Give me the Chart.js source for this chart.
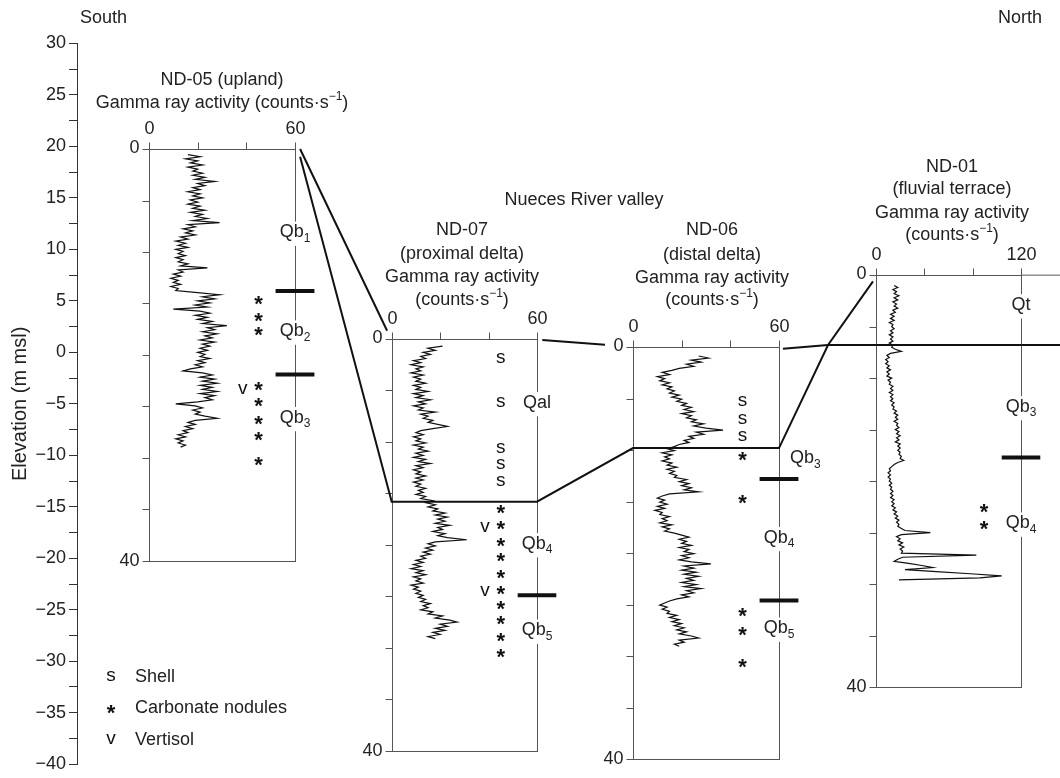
<!DOCTYPE html>
<html>
<head>
<meta charset="utf-8">
<title>Nueces River valley - gamma ray logs</title>
<script src="https://cdn.jsdelivr.net/npm/chart.js@4.4.0/dist/chart.umd.min.js"></script>
<style>
  body { margin: 0; background: #fff; }
  #section { display: block; }
</style>
</head>
<body>
<canvas id="section" width="1060" height="778"></canvas>
<script>
// elevation axis (m msl)
var elevMin = -40;
var elevMax = 30;
var elevStep = 2.5;

// the four wells, south to north
var logNames = ['ND-05', 'ND-07', 'ND-06', 'ND-01'];
var logTop = [19.75, 1.3, 0.5, 7.5];          // ground elevation of each well
var logDepth = 40;                             // every log frame is 40 m deep
var gammaMax = [60, 60, 60, 120];
var gammaTicks = [[0, 20, 40, 60], [0, 20, 40, 60], [0, 20, 40, 60], [0, 40, 80, 120]];
var sampleStep = 0.2;                          // m between two readings
var firstDepth = [0.55, 0.7, 0.85, 1.0];       // depth of the first reading

// gamma ray readings (counts/s), top to bottom
var gamma05 = [
  16, 21, 15, 20, 17, 22, 16, 20, 18, 22,
  18, 23, 19, 27, 20, 23, 18, 21, 16, 21,
  18, 22, 17, 20, 16, 21, 18, 23, 17, 22,
  19, 24, 18, 29, 16, 19, 14, 18, 15, 19,
  13, 16, 11, 15, 12, 16, 11, 14, 12, 15,
  11, 14, 12, 16, 13, 24, 12, 14, 10, 13,
  9, 12, 10, 13, 9, 12, 11, 20, 29, 22,
  27, 20, 25, 19, 24, 10, 21, 25, 19, 24,
  20, 26, 22, 32, 24, 27, 22, 28, 23, 26,
  21, 27, 22, 25, 21, 24, 20, 23, 21, 25,
  20, 23, 19, 22, 17, 14, 22, 26, 21, 27,
  22, 28, 21, 26, 22, 28, 21, 27, 23, 26,
  20, 11, 19, 22, 18, 21, 19, 23, 28, 19,
  16, 19, 15, 18, 14, 16, 12, 15, 11, 14,
  12, 15, 13
];
var gamma07 = [
  21, 15, 18, 13, 16, 12, 14, 9, 12, 8,
  13, 10, 12, 8, 13, 9, 12, 10, 14, 9,
  12, 10, 15, 9, 13, 10, 16, 11, 14, 9,
  13, 11, 18, 12, 15, 13, 17, 15, 19, 23,
  17, 12, 10, 13, 9, 12, 10, 14, 9, 13,
  11, 15, 10, 13, 9, 14, 11, 16, 10, 13,
  9, 12, 10, 14, 10, 13, 9, 12, 10, 14,
  11, 13, 10, 14, 12, 17, 14, 18, 15, 19,
  17, 22, 18, 23, 19, 22, 18, 24, 19, 21,
  17, 22, 19, 23, 31, 18, 15, 18, 14, 17,
  13, 16, 12, 14, 10, 13, 9, 12, 8, 13,
  10, 14, 9, 12, 10, 13, 8, 11, 9, 12,
  10, 13, 11, 14, 12, 16, 13, 15, 12, 17,
  15, 21, 18, 24, 27, 20, 23, 18, 22, 17,
  20, 15, 18
];
var gamma06 = [
  27, 31, 24, 28, 22, 25, 19, 16, 12, 15,
  10, 13, 11, 15, 12, 16, 14, 17, 15, 19,
  16, 20, 18, 22, 20, 24, 21, 25, 20, 24,
  22, 26, 24, 29, 25, 30, 37, 26, 29, 23,
  25, 21, 23, 19, 17, 14, 17, 12, 16, 13,
  15, 12, 16, 14, 18, 14, 17, 15, 18, 17,
  22, 19, 23, 20, 24, 21, 27, 15, 12, 10,
  13, 11, 14, 10, 13, 9, 12, 11, 15, 12,
  14, 11, 16, 12, 15, 13, 17, 20, 23, 19,
  22, 20, 24, 19, 23, 21, 25, 20, 23, 19,
  24, 32, 21, 25, 20, 26, 21, 27, 22, 25,
  20, 26, 21, 28, 22, 25, 20, 23, 18, 15,
  13, 11, 14, 12, 15, 14, 18, 15, 19, 16,
  20, 17, 21, 18, 22, 19, 24, 27, 19, 21,
  17, 19
];
var gamma01 = [
  15, 18, 14, 17, 15, 19, 15, 18, 14, 17,
  15, 18, 14, 16, 12, 15, 12, 15, 11, 14,
  13, 15, 12, 14, 11, 14, 12, 14, 11, 14,
  13, 16, 21, 12, 9, 11, 8, 10, 8, 11,
  9, 12, 9, 11, 9, 13, 10, 12, 11, 14,
  12, 14, 11, 14, 12, 14, 12, 15, 13, 15,
  14, 17, 15, 18, 16, 18, 15, 18, 17, 19,
  16, 19, 17, 20, 17, 19, 16, 20, 18, 20,
  18, 20, 19, 21, 20, 23, 18, 15, 13, 11,
  12, 10, 12, 10, 12, 11, 13, 11, 13, 12,
  14, 12, 14, 12, 15, 13, 15, 13, 16, 14,
  17, 15, 18, 16, 19, 17, 19, 18, 21, 24,
  45, 21, 17, 20, 18, 22, 19, 23, 20, 22,
  21, 83, 22, 18, 15, 27, 38, 47, 24, 50,
  78, 104, 86, 19
];
var gammaLogs = [gamma05, gamma07, gamma06, gamma01];

// stratigraphic units (label, depth of label) and contacts (depth)
var units = [
  ['Qb[1]', 'Qb[2]', 'Qb[3]'],
  ['Qal', 'Qb[4]', 'Qb[5]'],
  ['Qb[3]', 'Qb[4]', 'Qb[5]'],
  ['Qt', 'Qb[3]', 'Qb[4]']
];
var unitDepth = [[8.1, 17.7, 26.1], [6.2, 19.9, 28.3], [10.8, 18.5, 27.3], [2.9, 12.8, 24.1]];
var contactDepth = [[13.8, 21.9], [24.9], [12.8, 24.6], [17.7]];

// shells, carbonate nodules, vertisols (depth m)
var shells = [[], [2.0, 6.2, 10.7, 12.3, 13.9], [5.35, 7.1, 8.7], []];
var nodules = [
  [14.6, 16.2, 17.6, 22.9, 24.5, 26.2, 27.8, 30.2],
  [16.4, 18.0, 19.6, 21.1, 22.7, 24.3, 25.7, 27.2, 28.8, 30.4],
  [10.5, 14.6, 25.6, 27.5, 30.6],
  [22.5, 24.2]
];
var vertisols = [[23.4], [18.4, 24.6], [], []];

// correlation lines: [well, gamma, depth]
var surfaceA = [[0, 62.1, 0.0], [1, -1.9, -0.8]];
var surfaceB = [[1, 62.2, 0.1], [2, -11.5, -0.24]];
var surfaceC = [[2, 61.6, 0.15], [3, -39.7, 6.78], [3, 153, 6.78]];
var contactLine = [[0, 62.1, 0.75], [1, 0, 15.8], [1, 60, 15.8], [2, 0, 9.8], [2, 60, 9.8], [3, -39.7, 6.78], [3, -2.5, 0.6]];
var topExtension = [[3, 120, 0], [3, 153, 0]];

// titles of the logs
var titleLines = [
  ['ND-05 (upland)', 'Gamma ray activity (counts\u00b7s{\u22121})'],
  ['ND-07', '(proximal delta)', 'Gamma ray activity', '(counts\u00b7s{\u22121})'],
  ['ND-06', '(distal delta)', 'Gamma ray activity', '(counts\u00b7s{\u22121})'],
  ['ND-01', '(fluvial terrace)', 'Gamma ray activity', '(counts\u00b7s{\u22121})']
];
var legendSymbols = ['s', '*', 'v'];
var legendNames = ['Shell', 'Carbonate nodules', 'Vertisol'];

// ---- layout (px) ----
var FONT = '"Liberation Sans", Arial, sans-serif';
var AREA_LEFT = 77, AREA_RIGHT = 1060;
var frameLeft = [149, 391.7, 633, 876];
var frameRight = [295, 537, 779, 1021];
var xIds = ['x05', 'x07', 'x06', 'x01'];
var titleX = [222, 462, 712, 952];
var titleY = [[80, 103], [230, 254, 277, 300], [230, 255, 278, 300], [167, 189, 213, 235]];
var symbolCol = [45, 45, 45, 89.5];
var vertCol = [38.5, 38.5, 38.5, 77];

function xRange(i) {             // min/max of a well's scale so its frame lands in the right spot
    var k = gammaMax[i] / (frameRight[i] - frameLeft[i]);
    var min = -(frameLeft[i] - AREA_LEFT) * k;
    return { min: min, max: min + (AREA_RIGHT - AREA_LEFT) * k };
}

function drawSymbol(ctx, ch, x, y) {     // s, * and v as they look in the figure
    ctx.fillStyle = '#111';
    ctx.textAlign = 'center';
    ctx.textBaseline = 'middle';
    if (ch === '*') {
        ctx.font = 'bold 22px ' + FONT;
        ctx.fillText('*', x, y + 6);
    } else {
        ctx.font = '19px ' + FONT;
        ctx.fillText(ch, x, y - 1.5);
    }
}

function curveData(i) {
    var vals = gammaLogs[i];
    var out = [];
    for (var j = 0; j < vals.length; j++) {
        var depth = firstDepth[i] + j * sampleStep;
        out.push({ x: vals[j], y: logTop[i] - depth });
    }
    return out;
}

function symbolSet(i, depths, col, ch) {
    return {
        type: 'scatter',
        xAxisID: xIds[i],
        yAxisID: 'y',
        symbol: ch,                       // drawn by the plugin on the point positions
        data: depths.map(function(d) { return { x: col, y: logTop[i] - d }; }),
        pointRadius: 0,
        pointHoverRadius: 0
    };
}

var datasets = [];
for (var i = 0; i < logNames.length; i++) {
    datasets.push({
        label: logNames[i],
        xAxisID: xIds[i],
        yAxisID: 'y',
        data: curveData(i),
        borderColor: '#111',
        borderWidth: 1.2,
        pointRadius: 0,
        fill: false
    });
    for (var c = 0; c < contactDepth[i].length; c++) {     // thick contact marks on the right line
        var e = logTop[i] - contactDepth[i][c];
        datasets.push({
            xAxisID: xIds[i],
            yAxisID: 'y',
            data: [{ x: gammaMax[i] * 0.867, y: e }, { x: gammaMax[i] * 1.133, y: e }],
            borderColor: '#111',
            borderWidth: 4,
            borderCapStyle: 'butt',
            pointRadius: 0
        });
    }
    if (shells[i].length) datasets.push(symbolSet(i, shells[i], symbolCol[i], 's'));
    if (nodules[i].length) datasets.push(symbolSet(i, nodules[i], symbolCol[i], '*'));
    if (vertisols[i].length) datasets.push(symbolSet(i, vertisols[i], vertCol[i], 'v'));
}

function splitRich(str) {        // {..} = superscript, [..] = subscript
    var parts = [], mode = 0, buf = '';
    for (var k = 0; k < str.length; k++) {
        var ch = str[k];
        if (ch === '{' || ch === '[') {
            if (buf) parts.push({ text: buf, mode: mode });
            buf = '';
            mode = ch === '{' ? 1 : 2;
        } else if (ch === '}' || ch === ']') {
            if (buf) parts.push({ text: buf, mode: mode });
            buf = '';
            mode = 0;
        } else {
            buf += ch;
        }
    }
    if (buf) parts.push({ text: buf, mode: mode });
    return parts;
}

function drawRich(ctx, str, x, y, size, align, bg) {
    var parts = splitRich(str);
    var w = 0, k;
    for (k = 0; k < parts.length; k++) {
        ctx.font = (parts[k].mode ? Math.round(size * 0.65) : size) + 'px ' + FONT;
        parts[k].w = ctx.measureText(parts[k].text).width;
        w += parts[k].w;
    }
    var x0 = align === 'left' ? x : (align === 'right' ? x - w : x - w / 2);
    if (bg) {
        ctx.fillStyle = '#fff';
        ctx.fillRect(x0 - 2, y - size * 0.6, w + 4, size * 1.35);
    }
    ctx.fillStyle = '#222';
    ctx.textAlign = 'left';
    ctx.textBaseline = 'middle';
    var cx = x0;
    for (k = 0; k < parts.length; k++) {
        var p = parts[k];
        ctx.font = (p.mode ? Math.round(size * 0.65) : size) + 'px ' + FONT;
        var dy = p.mode === 1 ? -size * 0.33 : (p.mode === 2 ? size * 0.33 : 0);
        ctx.fillText(p.text, cx, y + dy);
        cx += p.w;
    }
}

function px(chart, i, g) { return chart.scales[xIds[i]].getPixelForValue(g); }
function py(chart, i, d) { return chart.scales.y.getPixelForValue(logTop[i] - d); }

function drawFrame(chart, i) {
    var ctx = chart.ctx;
    var xl = Math.round(px(chart, i, 0)) + 0.5;
    var xr = Math.round(px(chart, i, gammaMax[i])) + 0.5;
    var yt = Math.round(py(chart, i, 0)) + 0.5;
    var yb = Math.round(py(chart, i, logDepth)) + 0.5;
    ctx.strokeStyle = '#555';
    ctx.lineWidth = 1;
    ctx.strokeRect(xl, yt, xr - xl, yb - yt);
    ctx.beginPath();
    gammaTicks[i].forEach(function(g) {                   // ticks on top
        var gx = Math.round(px(chart, i, g)) + 0.5;
        ctx.moveTo(gx, yt);
        ctx.lineTo(gx, yt - 7);
    });
    for (var d = 0; d <= logDepth; d += 5) {              // depth ticks on the left
        var y = Math.round(py(chart, i, d)) + 0.5;
        ctx.moveTo(xl - 7, y);
        ctx.lineTo(xl, y);
    }
    ctx.stroke();
    ctx.fillStyle = '#222';
    ctx.font = '18px ' + FONT;
    ctx.textBaseline = 'middle';
    ctx.textAlign = 'right';
    ctx.fillText('0', xl - 10, yt - 1);
    ctx.fillText('' + logDepth, xl - 10, yb);
    ctx.textAlign = 'center';
    ctx.fillText('0', xl, yt - 20);
    ctx.fillText('' + gammaMax[i], xr, yt - 20);
}

function drawPolyline(chart, pts, width, color) {
    var ctx = chart.ctx;
    ctx.strokeStyle = color;
    ctx.lineWidth = width;
    ctx.lineJoin = 'miter';
    ctx.beginPath();
    pts.forEach(function(p, k) {
        var x = px(chart, p[0], p[1]);
        var y = py(chart, p[0], p[2]);
        if (k === 0) ctx.moveTo(x, y); else ctx.lineTo(x, y);
    });
    ctx.stroke();
}

var sectionPlugin = {
    id: 'section',
    beforeDatasetsDraw: function(chart) {
        var ctx = chart.ctx;
        ctx.save();
        for (var i = 0; i < logNames.length; i++) drawFrame(chart, i);
        drawPolyline(chart, topExtension, 1, '#555');
        ctx.restore();
    },
    afterDatasetsDraw: function(chart) {
        var ctx = chart.ctx;
        ctx.save();
        // symbols on the positions the scatter sets got from the scales
        chart.data.datasets.forEach(function(ds, k) {
            if (!ds.symbol) return;
            chart.getDatasetMeta(k).data.forEach(function(pt) {
                drawSymbol(ctx, ds.symbol, pt.x, pt.y);
            });
        });
        // unit names sit on the right line of each log
        for (var i = 0; i < logNames.length; i++) {
            for (var u = 0; u < units[i].length; u++) {
                var x = px(chart, i, gammaMax[i]);
                var y = py(chart, i, unitDepth[i][u]);
                if (i === 2 && u === 0) drawRich(ctx, units[i][u], x + 11, y, 18, 'left', false);
                else drawRich(ctx, units[i][u], x, y, 18, 'center', true);
            }
            for (var t = 0; t < titleLines[i].length; t++) {
                drawRich(ctx, titleLines[i][t], titleX[i], titleY[i][t], 18, 'center', false);
            }
        }
        // correlation between wells
        drawPolyline(chart, surfaceA, 2, '#111');
        drawPolyline(chart, surfaceB, 2, '#111');
        drawPolyline(chart, surfaceC, 2, '#111');
        drawPolyline(chart, contactLine, 2, '#111');

        drawRich(ctx, 'Nueces River valley', 584, 200, 18, 'center', false);
        drawRich(ctx, 'South', 80, 18, 18, 'left', false);
        drawRich(ctx, 'North', 1042, 18, 18, 'right', false);

        // legend
        var legY = [677, 708, 740];
        for (var l = 0; l < legendNames.length; l++) {
            drawSymbol(ctx, legendSymbols[l], 111, legY[l]);
            drawRich(ctx, legendNames[l], 135, legY[l], 18, 'left', false);
        }
        ctx.restore();
    }
};

var scales = {
    y: {
        type: 'linear',
        position: 'left',
        min: elevMin,
        max: elevMax,
        afterFit: function(s) { s.width = AREA_LEFT; },
        ticks: {
            stepSize: elevStep,
            autoSkip: false,
            color: '#222',
            padding: 3,
            font: { family: FONT, size: 18 },
            callback: function(v) {
                if (v % 5 !== 0) return '';
                return v < 0 ? '\u2212' + Math.abs(v) : '' + v;
            }
        },
        grid: { drawOnChartArea: false, drawTicks: true, tickLength: 8, color: '#333', lineWidth: 1 },
        border: { display: true, color: '#333', width: 1 },
        title: { display: true, text: 'Elevation (m msl)', color: '#222', font: { family: FONT, size: 20 }, padding: { top: 8, bottom: 0 } }
    }
};
for (var s = 0; s < xIds.length; s++) {
    var r = xRange(s);
    scales[xIds[s]] = { type: 'linear', axis: 'x', display: false, min: r.min, max: r.max };
}

var chart = new Chart(document.getElementById('section'), {
    type: 'line',
    data: { datasets: datasets },
    options: {
        responsive: false,
        animation: false,
        devicePixelRatio: 1,
        layout: { padding: { top: 43.5, bottom: 8, left: 0, right: 0 } },
        plugins: { legend: { display: false }, tooltip: { enabled: false } },
        elements: { line: { tension: 0 } },
        scales: scales
    },
    plugins: [sectionPlugin]
});
</script>
</body>
</html>
